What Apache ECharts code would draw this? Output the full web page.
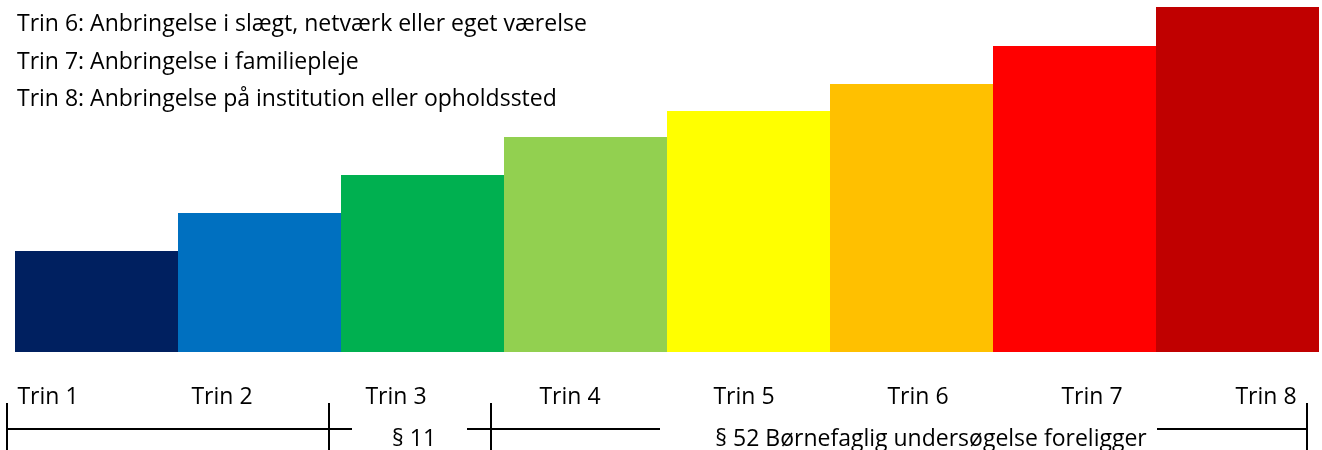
<!DOCTYPE html>
<html>
<head>
<meta charset="utf-8">
<script src="https://cdn.jsdelivr.net/npm/echarts@6/dist/echarts.min.js"></script>
<style>html,body{margin:0;padding:0;background:#fff}#c{width:1322px;height:450px}</style>
</head>
<body>
<div id="c"></div>
<script>
const categories = ['Trin 1','Trin 2','Trin 3','Trin 4','Trin 5','Trin 6','Trin 7','Trin 8'];
const values = [101, 139, 177, 215, 241, 268, 306, 345];
const colors = ['#002060','#0070C0','#00B050','#92D050','#FFFF00','#FFC000','#FF0000','#C00000'];
const legendLines = [
  'Trin 6: Anbringelse i slægt, netværk eller eget værelse',
  'Trin 7: Anbringelse i familiepleje',
  'Trin 8: Anbringelse på institution eller opholdssted'
];
const FONT = '"Open Sans"';
const FS = 23;
const chart = echarts.init(document.getElementById('c'), null, {renderer:'canvas'});
const graphic = [];
legendLines.forEach((s,i)=>graphic.push({type:'text', x:17, y:24.5 + i*37.7, style:{text:s, font:FS+'px '+FONT, fill:'#000', textVerticalAlign:'middle'}}));
const line = (x1,y1,x2,y2)=>({type:'line', shape:{x1,y1,x2,y2}, style:{stroke:'#000', lineWidth:2}});
graphic.push(line(7,429,352,429), line(7,403,7,450), line(329,403,329,450));
graphic.push(line(467,429,660,429), line(491,403,491,450));
graphic.push(line(1157,429,1307,429), line(1307,403,1307,450));
graphic.push({type:'text', x:414, y:439.5, style:{text:'§ 11', font:FS+'px '+FONT, fill:'#000', textAlign:'center', textVerticalAlign:'middle'}});
graphic.push({type:'text', x:931, y:439.5, style:{text:'§ 52 Børnefaglig undersøgelse foreligger', font:FS+'px '+FONT, fill:'#000', textAlign:'center', textVerticalAlign:'middle'}});
chart.setOption({
  animation:false,
  grid:[{left:15, right:3, top:7, bottom:98}, {left:48, right:56, top:300, bottom:64}],
  xAxis:[
    {type:'category', data:categories, gridIndex:0, show:false},
    {type:'value', gridIndex:1, min:0, max:7, interval:1, axisLine:{show:false}, axisTick:{show:false}, splitLine:{show:false},
     axisLabel:{margin:0, fontSize:FS, fontFamily:'Open Sans', color:'#000', showMinLabel:true, showMaxLabel:true, formatter:(v)=>categories[Math.round(v)]}}
  ],
  yAxis:[{type:'value', gridIndex:0, min:0, max:345, show:false}, {type:'value', gridIndex:1, show:false}],
  series:[{type:'bar', xAxisIndex:0, yAxisIndex:0, barCategoryGap:'0%', data:values.map((v,i)=>({value:v, itemStyle:{color:colors[i]}}))}],
  graphic
});
</script>
</body>
</html>
